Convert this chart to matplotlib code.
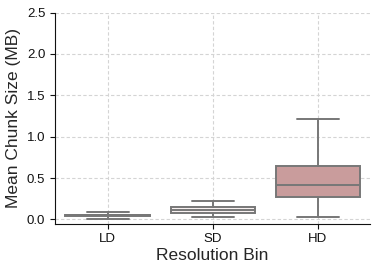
import matplotlib
matplotlib.use("Agg")
import matplotlib.pyplot as plt
import seaborn as sns

# box statistics (MB)
bins = ["LD", "SD", "HD"]
whislo = [0.005, 0.025, 0.03]
q1 = [0.038, 0.08, 0.27]
med = [0.048, 0.11, 0.42]
q3 = [0.058, 0.145, 0.65]
whishi = [0.085, 0.225, 1.21]
fills = ["#e6d3d3", "#f8f1f1", "#c99c9c"]

sns.set_style("ticks")
plt.rcParams["font.family"] = ["Liberation Sans", "DejaVu Sans"]

fig = plt.figure(figsize=(3.74, 2.74), dpi=100)
ax = fig.add_axes([0.147, 0.184, 0.843, 0.770])

stats = [dict(label=b, whislo=lo, q1=a, med=m, q3=c, whishi=hi, fliers=[])
         for b, lo, a, m, c, hi in zip(bins, whislo, q1, med, q3, whishi)]
edge = "#777777"
bp = ax.bxp(stats, positions=range(len(bins)), widths=0.8, patch_artist=True,
            showfliers=False,
            boxprops=dict(edgecolor=edge, linewidth=1.4),
            medianprops=dict(color=edge, linewidth=1.4),
            whiskerprops=dict(color=edge, linewidth=1.4),
            capprops=dict(color=edge, linewidth=1.4),
            capwidths=0.4)
for patch, c in zip(bp["boxes"], fills):
    patch.set_facecolor(c)

ax.set_xlim(-0.5, 2.5)
ax.set_ylim(-0.05, 2.5)
ax.set_yticks([0.0, 0.5, 1.0, 1.5, 2.0, 2.5])
ax.grid(True, linestyle=(0, (3, 2)), color="#d4d4d4", linewidth=0.8)
ax.set_axisbelow(True)
sns.despine(ax=ax)
for s in ["left", "bottom"]:
    ax.spines[s].set_color("#111111")
ax.tick_params(labelsize=9.5, colors="#111111")
ax.set_xlabel("Resolution Bin", fontsize=12.5, labelpad=2)
ax.set_ylabel("Mean Chunk Size (MB)", fontsize=12.5, labelpad=4)

fig.savefig("out.png", dpi=100)
